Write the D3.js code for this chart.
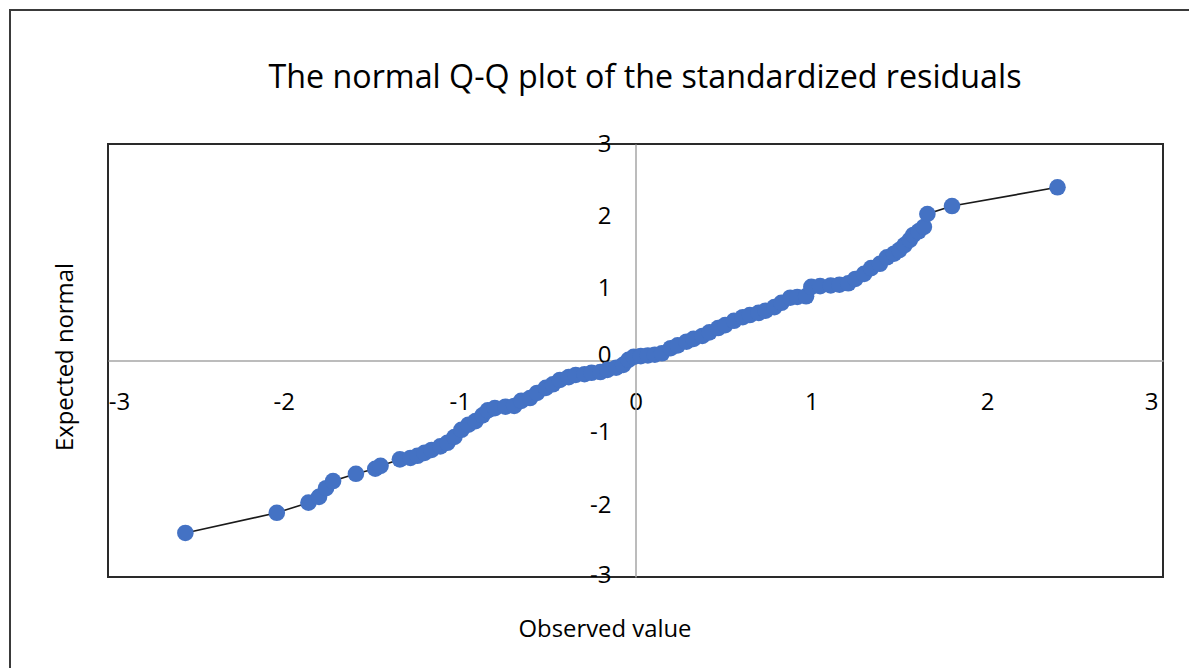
<!DOCTYPE html>
<html>
<head>
<meta charset="utf-8">
<script src="https://cdn.jsdelivr.net/npm/d3@7"></script>
<style>
  body { margin: 0; background: #fff; }
  text { font-family: "Open Sans", "Noto Sans", sans-serif; fill: #000; }
</style>
</head>
<body>
<script>
var width = 1189;
var height = 668;

// observed (standardized residual) vs expected normal quantile
var observed = [-2.56, -2.04, -1.86, -1.80, -1.76, -1.72, -1.59, -1.48, -1.45, -1.34,
  -1.28, -1.24, -1.20, -1.16, -1.11, -1.07, -1.03, -0.99, -0.95, -0.91,
  -0.87, -0.84, -0.80, -0.74, -0.69, -0.65, -0.60, -0.56, -0.51, -0.47,
  -0.43, -0.38, -0.34, -0.29, -0.25, -0.20, -0.16, -0.11, -0.07, -0.04,
  -0.01, 0.03, 0.07, 0.11, 0.15, 0.20, 0.24, 0.29, 0.33, 0.38,
  0.42, 0.47, 0.51, 0.56, 0.61, 0.65, 0.70, 0.74, 0.79, 0.83,
  0.88, 0.92, 0.97, 1.00, 1.05, 1.11, 1.16, 1.21, 1.25, 1.30,
  1.34, 1.39, 1.43, 1.47, 1.50, 1.53, 1.56, 1.58, 1.61, 1.64,
  1.66, 1.80, 2.40];
var expected = [-2.39, -2.11, -1.97, -1.89, -1.77, -1.67, -1.57, -1.50, -1.46, -1.37,
  -1.35, -1.32, -1.28, -1.24, -1.19, -1.14, -1.06, -0.96, -0.89, -0.84,
  -0.76, -0.69, -0.66, -0.64, -0.63, -0.56, -0.52, -0.45, -0.38, -0.33,
  -0.27, -0.23, -0.20, -0.19, -0.17, -0.16, -0.13, -0.10, -0.06, 0.01,
  0.05, 0.06, 0.07, 0.08, 0.10, 0.17, 0.21, 0.26, 0.30, 0.34,
  0.39, 0.45, 0.49, 0.55, 0.60, 0.63, 0.66, 0.69, 0.74, 0.80,
  0.87, 0.88, 0.89, 1.02, 1.03, 1.04, 1.05, 1.07, 1.13, 1.20,
  1.28, 1.34, 1.43, 1.48, 1.53, 1.60, 1.67, 1.74, 1.79, 1.85,
  2.03, 2.14, 2.40];
var ticks = [-3, -2, -1, 0, 1, 2, 3];

var title = "The normal Q-Q plot of the standardized residuals";
var xTitle = "Observed value";
var yTitle = "Expected normal";

var points = observed.map(function(d, i) { return { x: d, y: expected[i] }; });

var plot = { left: 108, top: 144, right: 1163, bottom: 577 };

var svg = d3.select("body").append("svg")
  .attr("width", width)
  .attr("height", height);

// outer frame (only top and left edges visible)
svg.append("path")
  .attr("d", "M10," + height + "V10H" + width)
  .attr("fill", "none")
  .attr("stroke", "#3a3a3a")
  .attr("stroke-width", 2);

var x = d3.scaleLinear().domain([-3, 3]).range([plot.left, plot.right]);
var y = d3.scaleLinear().domain([-3, 3]).range([plot.bottom, plot.top]);

// title
svg.append("text")
  .attr("x", 645)
  .attr("y", 88)
  .attr("text-anchor", "middle")
  .attr("font-size", 32)
  .attr("textLength", 753)
  .attr("lengthAdjust", "spacingAndGlyphs")
  .text(title);

// plot area box
svg.append("rect")
  .attr("x", plot.left)
  .attr("y", plot.top)
  .attr("width", plot.right - plot.left)
  .attr("height", plot.bottom - plot.top)
  .attr("fill", "none")
  .attr("stroke", "#2a2a2a")
  .attr("stroke-width", 2);

// plain hyphen minus like the original
var fmt = function(d) { return String(d); };

// zero axes
var xAxis = d3.axisBottom(x).tickValues(ticks).tickSize(0).tickPadding(0)
  .tickFormat(fmt);
var gx = svg.append("g")
  .attr("transform", "translate(0," + y(0) + ")")
  .call(xAxis);
gx.select(".domain").attr("stroke", "#a6a6a6").attr("stroke-width", 1.5);
gx.selectAll("text")
  .attr("font-size", 24)
  .attr("font-family", "'Open Sans', sans-serif")
  .attr("fill", "#000")
  .attr("dy", 0)
  .attr("y", 49)
  .attr("x", function(d) { return d === -3 ? 11 : d === 3 ? -12 : 0; });

var yAxis = d3.axisLeft(y).tickValues(ticks).tickSize(0).tickPadding(0)
  .tickFormat(fmt);
var gy = svg.append("g")
  .attr("transform", "translate(" + x(0) + ",0)")
  .call(yAxis);
gy.select(".domain").attr("stroke", "#a6a6a6").attr("stroke-width", 1.5);
gy.selectAll("text")
  .attr("font-size", 24)
  .attr("font-family", "'Open Sans', sans-serif")
  .attr("fill", "#000")
  .attr("x", -24)
  .attr("dy", function(d) { return d === 0 ? "0.1em" : d === -3 ? "0.22em" : "0.3em"; });

// connecting line
var line = d3.line().x(function(d) { return x(d.x); }).y(function(d) { return y(d.y); });
svg.append("path")
  .datum(points)
  .attr("d", line)
  .attr("fill", "none")
  .attr("stroke", "#1a1a1a")
  .attr("stroke-width", 1.6);

// markers
svg.append("g").selectAll("circle")
  .data(points)
  .enter()
  .append("circle")
  .attr("cx", function(d) { return x(d.x); })
  .attr("cy", function(d) { return y(d.y); })
  .attr("r", 8.3)
  .attr("fill", "#4472c4");

// axis titles
svg.append("text")
  .attr("x", 605)
  .attr("y", 637)
  .attr("text-anchor", "middle")
  .attr("font-size", 24)
  .attr("textLength", 173)
  .attr("lengthAdjust", "spacingAndGlyphs")
  .text(xTitle);

svg.append("text")
  .attr("transform", "translate(73,357) rotate(-90)")
  .attr("text-anchor", "middle")
  .attr("font-size", 24)
  .attr("textLength", 188)
  .attr("lengthAdjust", "spacingAndGlyphs")
  .text(yTitle);
</script>
</body>
</html>
